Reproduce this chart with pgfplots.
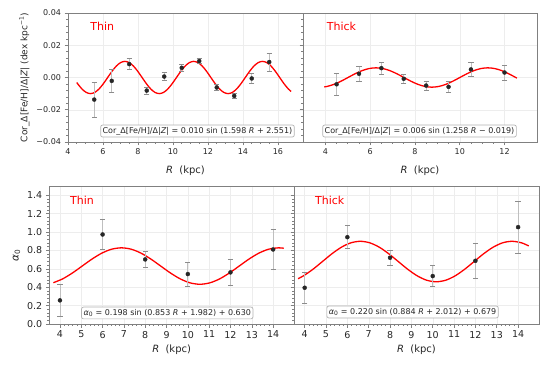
\documentclass[border=0pt]{standalone}
\usepackage{fontspec}
\setmainfont{DejaVu Sans}[ItalicFont={DejaVu Sans Oblique}]
\usepackage{pgfplots}
\pgfplotsset{compat=1.18}
\definecolor{spine}{gray}{0.5}
\definecolor{tickc}{gray}{0.15}
\pgfplotsset{
  panel/.style={
    scale only axis,
    scaled ticks=false,
    axis line style={draw=spine, line width=0.9pt},
    tick pos=left, tick align=outside,
    major tick length=3.5pt, minor tick length=2pt,
    every tick/.style={spine, line width=0.6pt},
    grid=major, major grid style={draw=black!7, line width=0.4pt},
    tick label style={text=tickc},
    label style={text=tickc, font=\fontsize{10}{12}\selectfont},
  },
  pts/.style={only marks, mark=*, mark size=2pt, color=tickc,
    error bars/.cd, y dir=both, y explicit,
    error bar style={color=black!25, line width=0.9pt},
    error mark options={rotate=90, color=black!45, mark size=2.6pt, line width=0.7pt}},
  fitc/.style={red, line width=1.3pt, smooth, no markers},
}
\tikzset{
  note/.style={draw=black!30, fill=white, rounded corners=2pt, line width=0.7pt,
    inner sep=2pt, font=\fontsize{8}{9}\selectfont, text=tickc},
  lab/.style={anchor=west, text=red, font=\fontsize{11}{13}\selectfont},
}
\begin{document}
\begin{tikzpicture}
\useasboundingbox (0pt,0pt) rectangle (553pt,364pt);
% ---------------- top left ----------------
\begin{axis}[panel, at={(68pt,222pt)}, anchor=south west,
  width=235pt, height=129pt,
  xmin=4, xmax=17.43, ymin=-0.04, ymax=0.04,
  xtick={4,6,...,16}, ytick={-0.04,-0.02,0,0.02,0.04},
  xticklabels={4,6,8,10,12,14,16},
  yticklabels={−0.04,−0.02,0.00,0.02,0.04},
  minor x tick num=3, minor y tick num=4,
  tick label style={font=\fontsize{8}{9}\selectfont},
  xlabel={\textit{R}\ \ (kpc)},
  xlabel style={yshift=-4pt},
  ylabel={Cor\_Δ[Fe/H]/Δ|\textit{Z}| (dex kpc\textsuperscript{−1})},
  ylabel style={font=\fontsize{9}{11}\selectfont},
]
\addplot[fitc] coordinates {
(4.5,-0.00312) (4.5473,-0.003827) (4.7930,-0.007071) (5.0388,-0.009239) (5.2845,-0.01)
(5.5303,-0.009239) (5.7760,-0.007071) (6.0218,-0.003827) (6.2675,0) (6.5133,0.003827)
(6.7590,0.007071) (7.0047,0.009239) (7.2505,0.01) (7.4962,0.009239) (7.7420,0.007071)
(7.9877,0.003827) (8.2335,0) (8.4792,-0.003827) (8.7250,-0.007071) (8.9707,-0.009239)
(9.2164,-0.01) (9.4622,-0.009239) (9.7079,-0.007071) (9.9537,-0.003827) (10.1994,0)
(10.4452,0.003827) (10.6909,0.007071) (10.9366,0.009239) (11.1824,0.01) (11.4281,0.009239)
(11.6739,0.007071) (11.9196,0.003827) (12.1654,0) (12.4111,-0.003827) (12.6568,-0.007071)
(12.9026,-0.009239) (13.1483,-0.01) (13.3941,-0.009239) (13.6398,-0.007071) (13.8856,-0.003827)
(14.1313,0) (14.3771,0.003827) (14.6228,0.007071) (14.8685,0.009239) (15.1143,0.01)
(15.3600,0.009239) (15.6058,0.007071) (15.8515,0.003827) (16.0973,0) (16.3430,-0.003827)
(16.5888,-0.007071) (16.75,-0.00864)};
\addplot[pts] coordinates {
(5.5,-0.0137) +- (0,0.0110)
(6.5,-0.0021) +- (0,0.0073)
(7.5,0.0083) +- (0,0.0035)
(8.5,-0.0081) +- (0,0.0023)
(9.5,0.0006) +- (0,0.0023)
(10.5,0.0060) +- (0,0.0019)
(11.5,0.0102) +- (0,0.0017)
(12.5,-0.0062) +- (0,0.0018)
(13.5,-0.0114) +- (0,0.0018)
(14.5,-0.0006) +- (0,0.0031)
(15.5,0.0096) +- (0,0.0056)};
\node[lab] at (rel axis cs:0.08,0.894) {Thin};
\node[note] at (rel axis cs:0.551,0.085) {Cor\_Δ[Fe/H]/Δ|\textit{Z}|\ =\ 0.010 sin (1.598 \textit{R} + 2.551)};
\end{axis}
% ---------------- top right ----------------
\begin{axis}[panel, at={(303pt,222pt)}, anchor=south west,
  width=234pt, height=129pt,
  xmin=3, xmax=13.45, ymin=-0.04, ymax=0.04,
  xtick={4,6,...,12}, ytick={-0.04,-0.02,0,0.02,0.04},
  xticklabels={4,6,8,10,12}, yticklabels={,,,,,},
  minor x tick num=3, minor y tick num=4,
  tick label style={font=\fontsize{8}{9}\selectfont},
  xlabel={\textit{R}\ \ (kpc)},
  xlabel style={yshift=-4pt},
]
\addplot[fitc] coordinates {
(3.95,-0.00583) (4.0732,-0.005543) (4.3854,-0.004243) (4.6975,-0.002296) (5.0097,0)
(5.3219,0.002296) (5.6340,0.004243) (5.9462,0.005543) (6.2583,0.006) (6.5705,0.005543)
(6.8827,0.004243) (7.1948,0.002296) (7.5070,0) (7.8192,-0.002296) (8.1313,-0.004243)
(8.4435,-0.005543) (8.7556,-0.006) (9.0678,-0.005543) (9.3800,-0.004243) (9.6921,-0.002296)
(10.0043,0) (10.3165,0.002296) (10.6286,0.004243) (10.9408,0.005543) (11.2529,0.006)
(11.5651,0.005543) (11.8773,0.004243) (12.1894,0.002296) (12.5016,0) (12.55,-0.000365)};
\addplot[pts] coordinates {
(4.5,-0.0042) +- (0,0.0070)
(5.5,0.0023) +- (0,0.0049)
(6.5,0.0058) +- (0,0.0036)
(7.5,-0.0008) +- (0,0.0029)
(8.5,-0.0050) +- (0,0.0027)
(9.5,-0.0058) +- (0,0.0034)
(10.5,0.0050) +- (0,0.0042)
(12.0,0.0031) +- (0,0.0047)};
\node[lab] at (rel axis cs:0.087,0.894) {Thick};
\node[note] at (rel axis cs:0.498,0.085) {Cor\_Δ[Fe/H]/Δ|\textit{Z}|\ =\ 0.006 sin (1.258 \textit{R} − 0.019)};
\end{axis}
% ---------------- bottom left ----------------
\begin{axis}[panel, at={(49.3pt,40pt)}, anchor=south west,
  width=244.7pt, height=138pt,
  xmin=3.5, xmax=14.98, ymin=0, ymax=1.5,
  xtick={4,5,...,14}, ytick={0,0.2,...,1.4},
  xticklabels={4,5,6,7,8,9,10,11,12,13,14},
  yticklabels={0.0,0.2,0.4,0.6,0.8,1.0,1.2,1.4},
  minor x tick num=4, minor y tick num=4,
  tick label style={font=\fontsize{9.5}{11}\selectfont},
  xlabel={\textit{R}\ \ (kpc)},
  ylabel={\textit{α}\textsubscript{0}},
  ylabel style={font=\fontsize{10.5}{12}\selectfont},
]
\addplot[fitc] coordinates {
(3.69,0.4490) (4.1217,0.48999) (4.5821,0.55423) (5.0424,0.630) (5.5028,0.70577)
(5.9632,0.77001) (6.4236,0.81293) (6.8839,0.828) (7.3443,0.81293) (7.8047,0.77001)
(8.2650,0.70577) (8.7254,0.630) (9.1858,0.55423) (9.6462,0.48999) (10.1065,0.44707)
(10.5669,0.432) (11.0273,0.44707) (11.4877,0.48999) (11.9480,0.55423) (12.4084,0.630)
(12.8688,0.70577) (13.3291,0.77001) (13.7895,0.81293) (14.2499,0.828) (14.5,0.8235)};
\addplot[pts] coordinates {
(4,0.257) +- (0,0.170)
(6,0.973) +- (0,0.167)
(8,0.702) +- (0,0.087)
(10,0.543) +- (0,0.129)
(12,0.561) +- (0,0.145)
(14,0.810) +- (0,0.215)};
\node[lab] at (rel axis cs:0.071,0.893) {Thin};
\node[note] at (rel axis cs:0.482,0.08) {\textit{α}\textsubscript{0}\ =\ 0.198 sin (0.853 \textit{R} + 1.982) + 0.630};
\end{axis}
% ---------------- bottom right ----------------
\begin{axis}[panel, at={(294pt,40pt)}, anchor=south west,
  width=245pt, height=138pt,
  xmin=3.5, xmax=14.98, ymin=0, ymax=1.5,
  xtick={4,5,...,14}, ytick={0,0.2,...,1.4},
  xticklabels={4,5,6,7,8,9,10,11,12,13,14}, yticklabels={,,,,,,,,},
  minor x tick num=4, minor y tick num=4,
  tick label style={font=\fontsize{9.5}{11}\selectfont},
  xlabel={\textit{R}\ \ (kpc)},
]
\addplot[fitc] coordinates {
(3.69,0.49275) (3.9432,0.52344) (4.3874,0.59481) (4.8317,0.679) (5.2759,0.76319)
(5.7201,0.83456) (6.1644,0.88226) (6.6086,0.899) (7.0528,0.88226) (7.4970,0.83456)
(7.9413,0.76319) (8.3855,0.679) (8.8297,0.59481) (9.2740,0.52344) (9.7182,0.47574)
(10.1624,0.459) (10.6067,0.47574) (11.0509,0.52344) (11.4951,0.59481) (11.9393,0.679)
(12.3836,0.76319) (12.8278,0.83456) (13.2720,0.88226) (13.7163,0.899) (14.1605,0.88226)
(14.5,0.84833)};
\addplot[pts] coordinates {
(4,0.394) +- (0,0.165)
(6,0.944) +- (0,0.127)
(8,0.720) +- (0,0.080)
(10,0.521) +- (0,0.116)
(12,0.687) +- (0,0.187)
(14,1.053) +- (0,0.280)};
\node[lab] at (rel axis cs:0.072,0.893) {Thick};
\node[note] at (rel axis cs:0.484,0.087) {\textit{α}\textsubscript{0}\ =\ 0.220 sin (0.884 \textit{R} + 2.012) + 0.679};
\end{axis}
\end{tikzpicture}
\end{document}
